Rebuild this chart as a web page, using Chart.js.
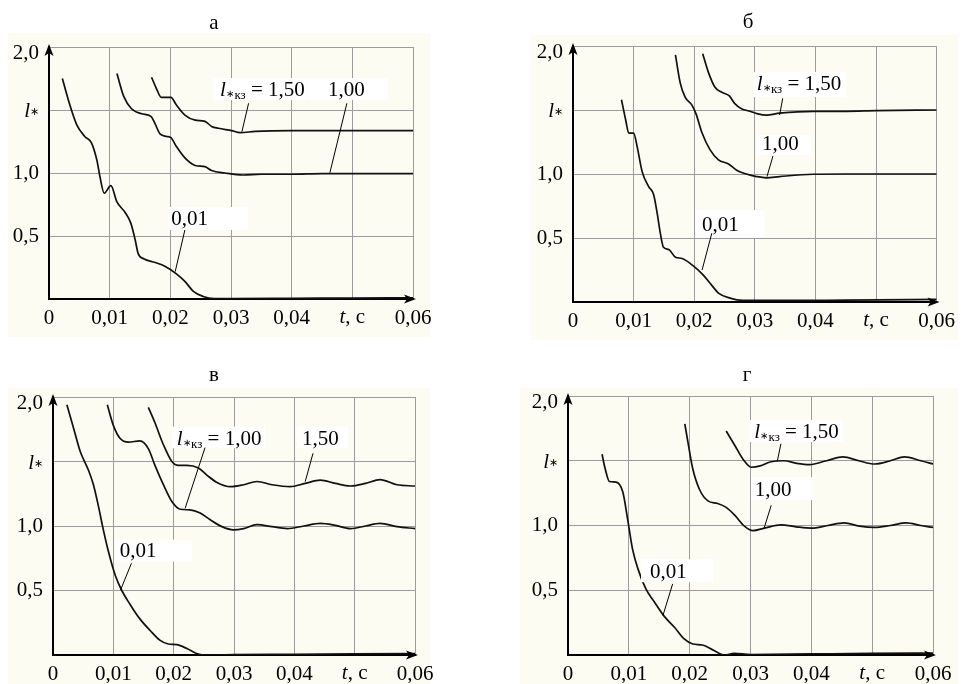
<!DOCTYPE html>
<html><head><meta charset="utf-8">
<script src="https://cdn.jsdelivr.net/npm/chart.js@4.4.1/dist/chart.umd.min.js"></script>
<style>
html,body{margin:0;padding:0;background:#fff;width:962px;height:684px;overflow:hidden;}
canvas{position:absolute;}
</style></head><body>
<canvas id="ca" width="481" height="342" style="left:0;top:0"></canvas>
<canvas id="cb" width="481" height="342" style="left:481px;top:0"></canvas>
<canvas id="cc" width="481" height="342" style="left:0;top:342px"></canvas>
<canvas id="cd" width="481" height="342" style="left:481px;top:342px"></canvas>
<script>
// ---------- DATA (t, s ; l*) ----------
const xTicks = [0, 0.01, 0.02, 0.03, 0.04, 0.05, 0.06];
const xTickLabels = ['0', '0,01', '0,02', '0,03', '0,04', '', '0,06'];
const yTicks = [0, 0.5, 1.0, 1.5, 2.0];
const yTickLabels = ['', '0,5', '1,0', '', ''];   // "l*" and "2,0" drawn with offsets below
const seriesNames = ['0,01', '1,00', '1,50'];

// panel а
const aT001 = [0.0022,0.0035,0.0046,0.0059,0.0070,0.0079,0.0084,0.0091,0.0102,0.0112,0.0125,0.0135,0.0142,0.0147,0.0156,0.0175,0.0191,0.0210,0.0224,0.0238,0.0254,0.0272,0.030,0.040,0.050,0.060];
const aI001 = [1.75,1.53,1.38,1.29,1.24,1.10,0.97,0.84,0.90,0.77,0.69,0.60,0.47,0.36,0.32,0.29,0.26,0.20,0.14,0.06,0.02,0.003,0.003,0.005,0.008,0.01];
const aT100 = [0.0112,0.0123,0.0136,0.0153,0.0168,0.0175,0.0183,0.0194,0.0201,0.0210,0.0224,0.0241,0.0257,0.0268,0.0290,0.0320,0.035,0.040,0.045,0.050,0.055,0.060];
const aI100 = [1.79,1.61,1.51,1.47,1.45,1.39,1.31,1.29,1.28,1.21,1.12,1.06,1.05,1.02,1.00,0.984,0.99,0.99,0.995,0.995,0.995,0.995];
const aT150 = [0.0169,0.0178,0.0185,0.0201,0.0210,0.0224,0.0241,0.0257,0.0268,0.0279,0.0301,0.0315,0.034,0.040,0.045,0.050,0.055,0.060];
const aI150 = [1.76,1.66,1.60,1.60,1.54,1.46,1.42,1.41,1.37,1.355,1.336,1.32,1.33,1.336,1.336,1.336,1.336,1.336];

// panel б
const bT001 = [0.0080,0.0087,0.0092,0.0100,0.0106,0.0114,0.0125,0.0133,0.0139,0.0144,0.0149,0.0158,0.0169,0.0180,0.0199,0.0215,0.0229,0.0240,0.0259,0.028,0.035,0.045,0.060];
const bI001 = [1.58,1.42,1.32,1.32,1.21,1.02,0.90,0.84,0.69,0.54,0.43,0.41,0.35,0.34,0.28,0.21,0.13,0.07,0.03,0.012,0.012,0.015,0.02];
const bT100 = [0.0169,0.0177,0.0185,0.0196,0.0203,0.0213,0.0226,0.0240,0.0256,0.0270,0.0286,0.0303,0.0319,0.0341,0.0396,0.045,0.050,0.060];
const bI100 = [1.93,1.71,1.60,1.54,1.47,1.32,1.19,1.11,1.08,1.03,1.00,0.98,0.97,0.98,0.998,1.0,1.0,1.0];
const bT150 = [0.0214,0.0223,0.0234,0.0245,0.0258,0.0267,0.0278,0.0292,0.0305,0.0319,0.0341,0.0396,0.045,0.050,0.060];
const bI150 = [1.94,1.80,1.68,1.64,1.61,1.55,1.51,1.49,1.47,1.46,1.475,1.49,1.49,1.495,1.50];

// panel в
const cT001 = [0.0023,0.0034,0.0045,0.0059,0.0067,0.0075,0.0083,0.0092,0.0103,0.0114,0.0128,0.0144,0.0161,0.0177,0.0191,0.0205,0.0222,0.0238,0.0249,0.030,0.040,0.050,0.060];
const cI001 = [1.94,1.76,1.58,1.43,1.32,1.16,0.98,0.80,0.62,0.50,0.39,0.28,0.19,0.115,0.085,0.08,0.05,0.012,0.0,0.004,0.006,0.008,0.01];
const cT100 = [0.0090,0.0100,0.0111,0.0125,0.0144,0.0158,0.0169,0.0183,0.0197,0.0211,0.0227,0.0244,0.0260,0.0280,0.0299,0.0316,0.0338,0.0363,0.0388,0.0416,0.0443,0.0468,0.0493,0.0518,0.0542,0.0570,0.060];
const cI100 = [1.94,1.78,1.68,1.65,1.66,1.60,1.47,1.32,1.19,1.13,1.125,1.10,1.05,0.995,0.97,0.98,1.01,0.995,0.98,1.00,1.02,1.005,0.98,1.00,1.02,0.995,0.98];
const cT150 = [0.0158,0.0169,0.0183,0.0197,0.0208,0.0222,0.0241,0.0255,0.0271,0.0294,0.0316,0.0338,0.0363,0.0393,0.0418,0.0443,0.0468,0.0493,0.0518,0.0542,0.0570,0.060];
const cI150 = [1.92,1.80,1.63,1.50,1.47,1.47,1.45,1.395,1.34,1.305,1.32,1.345,1.32,1.305,1.33,1.355,1.33,1.31,1.33,1.36,1.32,1.31];

// panel г
const dT001 = [0.0056,0.0061,0.0068,0.0079,0.0090,0.0098,0.0106,0.0115,0.0128,0.0142,0.0158,0.0175,0.0191,0.0205,0.0221,0.0240,0.0257,0.0273,0.030,0.040,0.050,0.060];
const dI001 = [1.55,1.44,1.34,1.335,1.26,1.05,0.82,0.665,0.51,0.41,0.30,0.214,0.124,0.085,0.077,0.034,0.0,0.012,0.004,0.008,0.012,0.015];
const dT100 = [0.0192,0.0198,0.0205,0.0216,0.0230,0.0246,0.0260,0.0274,0.0290,0.0304,0.0323,0.0350,0.0375,0.0400,0.0427,0.0454,0.0479,0.0504,0.0530,0.0556,0.0580,0.060];
const dI100 = [1.785,1.62,1.44,1.28,1.19,1.17,1.14,1.08,0.995,0.96,0.98,1.005,0.99,0.98,1.00,1.02,0.995,0.985,1.00,1.02,1.0,0.985];
const dT150 = [0.0260,0.0274,0.0288,0.0301,0.0316,0.0332,0.0355,0.0376,0.0397,0.0425,0.0452,0.0478,0.0504,0.0530,0.0553,0.0580,0.060];
const dI150 = [1.73,1.62,1.51,1.45,1.46,1.49,1.50,1.48,1.47,1.50,1.53,1.50,1.475,1.50,1.53,1.50,1.475];

// ---------- STYLE / LAYOUT ----------
const FONT = "'Liberation Serif','Times New Roman',serif";
const FS = 21;
Chart.defaults.font.family = FONT;
Chart.defaults.color = '#000';
const YW = 45, XH = 28;

function zip(t, v) { return t.map((x, i) => ({x: x, y: v[i]})); }

const panels = [
  { id:'ca', title:'а', qx:0, qy:0, L:49, R:413, T:47, B:299, tx:214, ty:23, bg:[8,33,430,337],
    series:[[aT001,aI001],[aT100,aI100],[aT150,aI150]],
    notes:[
      {kz:true, text:'1,50', t:0.0282, v:1.667, box:[0.0270,0.0425,1.754,1.579], lead:[0.0329,1.553,0.0318,1.328]},
      {text:'1,00', t:0.0490, v:1.667, box:[0.0427,0.0559,1.754,1.579], lead:[0.0491,1.553,0.0463,1.002]},
      {text:'0,01', t:0.0232, v:0.643, box:[0.0196,0.0328,0.730,0.548], lead:[0.0224,0.548,0.0208,0.217]}
    ]},
  { id:'cb', title:'б', qx:481, qy:0, L:573, R:939, T:46, B:302, tx:748, ty:22, bg:[531,35,958,340],
    series:[[bT001,bI001],[bT100,bI100],[bT150,bI150]],
    notes:[
      {kz:true, text:'1,50', t:0.0303, v:1.709, box:[0.0297,0.0451,1.797,1.602], lead:[0.0346,1.591,0.0341,1.461]},
      {text:'1,00', t:0.0342, v:1.242, box:[0.0303,0.0393,1.305,1.148], lead:[0.0330,1.141,0.0320,0.979]},
      {text:'0,01', t:0.0243, v:0.609, box:[0.0202,0.0316,0.719,0.500], lead:[0.0229,0.537,0.0213,0.250]}
    ]},
  { id:'cc', title:'в', qx:0, qy:342, L:53, R:415, T:397, B:655, tx:214, ty:375, bg:[8,388,430,684],
    series:[[cT001,cI001],[cT100,cI100],[cT150,cI150]],
    notes:[
      {kz:true, text:'1,00', t:0.0205, v:1.686, box:[0.0197,0.0351,1.771,1.603], lead:[0.0252,1.608,0.0219,1.137]},
      {text:'1,50', t:0.0443, v:1.686, box:[0.0404,0.0489,1.771,1.603], lead:[0.0431,1.564,0.0418,1.344]},
      {text:'0,01', t:0.0141, v:0.817, box:[0.0103,0.0230,0.894,0.724], lead:[0.0130,0.711,0.0112,0.504]}
    ]},
  { id:'cd', title:'г', qx:481, qy:342, L:568, R:933, T:396, B:655, tx:747, ty:375, bg:[520,388,958,684],
    series:[[dT001,dI001],[dT100,dI100],[dT150,dI150]],
    notes:[
      {kz:true, text:'1,50', t:0.0306, v:1.729, box:[0.0298,0.0452,1.814,1.644], lead:[0.0350,1.631,0.0344,1.495]},
      {text:'1,00', t:0.0337, v:1.283, box:[0.0301,0.0403,1.373,1.196], lead:[0.0334,1.155,0.0322,0.974]},
      {text:'0,01', t:0.0165, v:0.647, box:[0.0120,0.0238,0.740,0.562], lead:[0.0172,0.549,0.0156,0.304]}
    ]}
];

function f(style, size) { return (style ? style + ' ' : '') + size + 'px ' + FONT; }

const decoPlugin = {
  id: 'deco',
  beforeDraw(chart, args, o) {
    const ctx = chart.ctx;
    ctx.save();
    ctx.fillStyle = '#fcfcf2';
    ctx.fillRect(o.bg[0]-o.qx, o.bg[1]-o.qy, o.bg[2]-o.bg[0], o.bg[3]-o.bg[1]);
    ctx.restore();
  },
  afterDraw(chart, args, o) {
    const ctx = chart.ctx, xs = chart.scales.x, ys = chart.scales.y, ca = chart.chartArea;
    ctx.save();
    // arrows
    ctx.fillStyle = '#000';
    const ax = ca.left, ay = ca.top - 3;
    ctx.beginPath(); ctx.moveTo(ax, ay); ctx.lineTo(ax-4.5, ay+12); ctx.lineTo(ax, ay+9); ctx.lineTo(ax+4.5, ay+12); ctx.closePath(); ctx.fill();
    const bx = ca.right + 3, by = ca.bottom;
    ctx.beginPath(); ctx.moveTo(bx, by); ctx.lineTo(bx-12, by-4.5); ctx.lineTo(bx-9, by); ctx.lineTo(bx-12, by+4.5); ctx.closePath(); ctx.fill();
    // title
    ctx.font = f('', FS);
    ctx.textAlign = 'center'; ctx.textBaseline = 'middle';
    ctx.fillText(o.title, o.tx - o.qx, o.ty - o.qy);
    // y labels "2,0" (set a bit below the arrow) and "l*" at 1.5
    ctx.textAlign = 'right';
    ctx.fillText('2,0', ca.left - 10, ys.getPixelForValue(2) + 6);
    {
      ctx.textBaseline = 'alphabetic';
      const by15 = ys.getPixelForValue(1.5) + 7;
      ctx.font = f('', 11); const wa = ctx.measureText('\u2217').width;
      ctx.textAlign = 'left';
      const rx = ca.left - 10;
      ctx.fillText('\u2217', rx - wa, by15 - 2);
      ctx.font = f('italic', FS); const wl = ctx.measureText('l').width;
      ctx.fillText('l', rx - wa - wl, by15);
    }
    // "t, c" axis name at 0.05
    const tcx = xs.getPixelForValue(0.05), tcy = ca.bottom + 8;
    ctx.textBaseline = 'top'; ctx.textAlign = 'left';
    ctx.font = f('italic', FS); const w1 = ctx.measureText('t').width;
    ctx.font = f('', FS); const w2 = ctx.measureText(', c').width;
    const sx = tcx - (w1 + w2) / 2;
    ctx.font = f('italic', FS); ctx.fillText('t', sx, tcy);
    ctx.font = f('', FS); ctx.fillText(', c', sx + w1, tcy);
    // annotations
    o.notes.forEach(n => {
      const x1 = xs.getPixelForValue(n.box[0]), x2 = xs.getPixelForValue(n.box[1]);
      const y1 = ys.getPixelForValue(n.box[2]), y2 = ys.getPixelForValue(n.box[3]);
      ctx.fillStyle = '#fff';
      ctx.fillRect(x1, y1, x2 - x1, y2 - y1);
    });
    ctx.strokeStyle = '#000'; ctx.lineWidth = 1;
    o.notes.forEach(n => {
      ctx.beginPath();
      ctx.moveTo(xs.getPixelForValue(n.lead[0]), ys.getPixelForValue(n.lead[1]));
      ctx.lineTo(xs.getPixelForValue(n.lead[2]), ys.getPixelForValue(n.lead[3]));
      ctx.stroke();
    });
    ctx.fillStyle = '#000';
    ctx.textBaseline = 'alphabetic';
    o.notes.forEach(n => {
      const px = xs.getPixelForValue(n.t), py = ys.getPixelForValue(n.v) + 7;
      if (n.kz) {
        let x = px;
        ctx.textAlign = 'left';
        ctx.font = f('italic', FS); ctx.fillText('l', x, py); x += ctx.measureText('l').width + 0.5;
        ctx.font = f('', 10); ctx.fillText('\u2217', x, py + 1); x += ctx.measureText('\u2217').width;
        ctx.font = f('', 13); ctx.fillText('\u043a\u0437', x, py + 3); x += ctx.measureText('\u043a\u0437').width;
        ctx.font = f('', FS); ctx.fillText(' = ' + n.text, x, py);
      } else {
        ctx.textAlign = 'center';
        ctx.font = f('', FS);
        ctx.fillText(n.text, px, py);
      }
    });
    ctx.restore();
  }
};

panels.forEach(p => {
  const W = 481, H = 342;
  const datasets = p.series.map((s, i) => ({
    label: seriesNames[i],
    data: zip(s[0], s[1]),
    borderColor: '#111', borderWidth: 1.7, pointRadius: 0,
    fill: false, cubicInterpolationMode: 'monotone'
  }));
  new Chart(document.getElementById(p.id), {
    type: 'line',
    data: { datasets },
    plugins: [decoPlugin],
    options: {
      responsive: false, animation: false, devicePixelRatio: 1,
      layout: { padding: { left: p.L - p.qx - YW, top: p.T - p.qy, right: p.qx + W - p.R, bottom: p.qy + H - p.B - XH } },
      plugins: { legend: { display: false }, tooltip: { enabled: false },
        deco: { title: p.title, qx: p.qx, qy: p.qy, tx: p.tx, ty: p.ty, bg: p.bg, notes: p.notes } },
      scales: {
        x: {
          type: 'linear', min: 0, max: 0.06,
          afterFit: s => { s.height = XH; },
          afterBuildTicks: s => { s.ticks = xTicks.map(v => ({value: v})); },
          ticks: { autoSkip: false, maxRotation: 0, padding: 7, font: { size: FS, family: FONT },
            callback: (v) => { const i = xTicks.findIndex(t => Math.abs(t - v) < 1e-6); return i >= 0 ? xTickLabels[i] : ''; } },
          grid: { color: '#9c9c9c', lineWidth: 1, drawTicks: false },
          border: { color: '#000', width: 2 }
        },
        y: {
          type: 'linear', min: 0, max: 2,
          afterFit: s => { s.width = YW; },
          afterBuildTicks: s => { s.ticks = yTicks.map(v => ({value: v})); },
          ticks: { autoSkip: false, padding: 10, font: { size: FS, family: FONT },
            callback: (v) => { const i = yTicks.findIndex(t => Math.abs(t - v) < 1e-6); return i >= 0 ? yTickLabels[i] : ''; } },
          grid: { color: '#9c9c9c', lineWidth: 1, drawTicks: false },
          border: { color: '#000', width: 2 }
        }
      }
    }
  });
});
</script>
</body></html>
